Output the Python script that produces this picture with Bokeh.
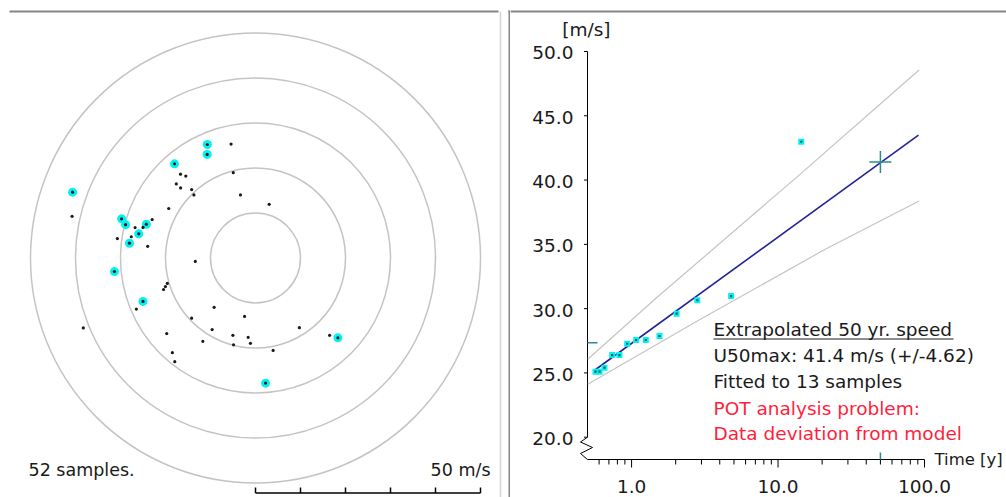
import math
from bokeh.plotting import figure
from bokeh.layouts import row
from bokeh.models import Range1d, Label
from bokeh.core.properties import value
from bokeh.embed import file_html
from bokeh.resources import INLINE

# ---------------- data: polar scatter of samples ----------------
ring_speeds = [10, 20, 30, 40, 50]            # m/s
scale_ticks = [0, 10, 20, 30, 40, 50]         # m/s
# samples not used in the extreme fit (direction deg, speed m/s)
sample_dir = [347.9, 318.2, 319.6, 345.4, 313.1, 313.1, 317.0, 315.7, 346.6, 14.3,
              299.7, 282.8, 290.4, 284.2, 285.2, 278.0, 279.7, 276.2, 266.7, 253.9,
              252.4, 251.1, 220.0, 246.8, 226.7, 190.6, 247.9, 211.2, 147.8, 229.6,
              196.3, 185.3, 136.2, 212.3, 194.2, 183.4, 169.2, 221.3, 217.9]
sample_speed = [25.9, 25.0, 23.9, 19.6, 24.1, 22.8, 20.8, 19.6, 14.4, 12.3,
                22.2, 41.8, 24.5, 27.6, 25.9, 31.0, 28.0, 24.1, 13.4, 20.4,
                21.0, 21.6, 14.3, 28.8, 19.5, 13.2, 41.3, 18.6, 18.3, 25.9,
                17.9, 17.7, 23.8, 21.9, 19.9, 19.0, 20.9, 28.0, 29.2]
# peak samples (used in the fit)
peak_dir = [337.0, 335.0, 319.3, 289.8, 286.3, 284.4, 287.2, 281.7, 276.7, 264.5,
            248.9, 134.1, 175.4]
peak_speed = [27.4, 25.4, 27.6, 43.2, 31.0, 29.8, 25.4, 26.5, 28.2, 31.5,
              26.8, 25.5, 27.9]

# ---------------- data: extreme value plot ----------------
return_period = [0.567, 0.604, 0.653, 0.737, 0.826, 0.933, 1.074, 1.25, 1.55, 2.03,
                 2.81, 4.78, 14.4]
return_speed = [25.1, 25.1, 25.41, 26.39, 26.39, 27.27, 27.56, 27.56, 27.87, 29.61,
                30.65, 30.98, 42.98]
fit_t = [0.55, 91.0]
fit_u = [25.15, 43.5]
upper_t = [0.502, 1.5, 13.5, 91.8]
upper_u = [26.06, 30.9, 40.25, 48.56]
lower_t = [0.502, 2.95, 21.0, 91.8]
lower_u = [24.12, 29.17, 34.62, 38.37]
t50 = 50.0
u50 = 41.4
u50_err = 4.62
threshold = 27.35
y_ticks = [20, 25, 30, 35, 40, 45, 50]
y_tick_labels = ["20.0", "25.0", "30.0", "35.0", "40.0", "45.0", "50.0"]
x_ticks = [1, 10, 100]
x_tick_labels = ["1.0", "10.0", "100.0"]
x_minor = [0.6, 0.7, 0.8, 0.9, 2, 3, 4, 5, 6, 7, 8, 9,
           20, 30, 40, 50, 60, 70, 80, 90]

FONT = "DejaVu Sans"
FS_L = "17.5px"
FS_R = "18.5px"
TXT = "#1a1a1a"
RED = "#ff1f3d"
CYAN = "#00f2f2"
TEAL = "#2a8c8c"
BORDER = "#868686"

# ---------------- left panel: polar ----------------
CX, CY, PXM = 255.0, 257.5, 4.5          # picture-pixel centre, px per m/s


def lx(px):
    return (px - CX) / PXM


def ly(py):
    return (CY - py) / PXM


L = figure(width=510, height=497, x_range=Range1d(lx(0), lx(510)),
           y_range=Range1d(ly(497), ly(0)), output_backend="svg",
           toolbar_location=None, min_border=0,
           x_axis_location=None, y_axis_location=None)
L.grid.visible = False
L.outline_line_color = None
L.background_fill_color = "white"
L.border_fill_color = "white"

L.circle(x=[0] * len(ring_speeds), y=[0] * len(ring_speeds), radius=ring_speeds,
         fill_color=None, line_color="#c4c4c4", line_width=1.5)

sx = [s * math.sin(math.radians(d)) for d, s in zip(sample_dir, sample_speed)]
sy = [s * math.cos(math.radians(d)) for d, s in zip(sample_dir, sample_speed)]
qx = [s * math.sin(math.radians(d)) for d, s in zip(peak_dir, peak_speed)]
qy = [s * math.cos(math.radians(d)) for d, s in zip(peak_dir, peak_speed)]

L.scatter(qx, qy, size=9, fill_color=CYAN, line_color=None)
L.scatter(sx + qx, sy + qy, size=3.2, fill_color="#1a1a1a", line_color=None)

# scale bar
L.line(x=[scale_ticks[0], scale_ticks[-1]], y=[ly(492.5)] * 2, line_color="black", line_width=1.5)
L.segment(x0=scale_ticks, y0=[ly(492.5)] * len(scale_ticks), x1=scale_ticks,
          y1=[ly(487)] * len(scale_ticks), line_color="black", line_width=1.5)

n_samples = len(sample_speed) + len(peak_speed)
L.add_layout(Label(x=lx(28), y=ly(469.5), text=f"{n_samples} samples.", text_font=FONT,
                   text_font_size=FS_L, text_color=TXT, text_baseline="middle"))
L.add_layout(Label(x=lx(490), y=ly(469.5), text=f"{ring_speeds[-1]} m/s", text_font=FONT,
                   text_font_size=FS_L, text_color=TXT, text_baseline="middle",
                   text_align="right"))

# panel borders
L.line(x=[lx(9), lx(498)], y=[ly(11)] * 2, line_color=BORDER, line_width=2)
L.line(x=[lx(508), lx(510)], y=[ly(11)] * 2, line_color=BORDER, line_width=2)
L.line(x=[lx(500)] * 2, y=[ly(11), ly(497)], line_color="#d4d4d4", line_width=1.5)
L.line(x=[lx(509)] * 2, y=[ly(10), ly(497)], line_color=BORDER, line_width=2)

# ---------------- right panel: extreme value fit ----------------
AX0, DEC = 587.0, (924.0 - 587.0) / math.log10(100 / 0.5)   # x of T=0.5, px per decade
Y20, PXU = 436.7, 12.857                                      # y of 20 m/s, px per m/s
XAXIS_Y = 459.0


def rx(px):
    return 0.5 * 10 ** ((px - AX0) / DEC)


def ry(py):
    return 20 + (Y20 - py) / PXU


R = figure(width=496, height=497, x_axis_type="log",
           x_range=Range1d(rx(510), rx(1006)), y_range=Range1d(ry(497), ry(0)),
           output_backend="svg", toolbar_location=None, min_border=0,
           x_axis_location=None, y_axis_location=None)
R.grid.visible = False
R.outline_line_color = None
R.background_fill_color = "white"
R.border_fill_color = "white"

x0 = rx(AX0)                 # left end of time axis (T = 0.5)
yb = ry(XAXIS_Y)             # time axis level

# y axis: line, ticks, labels, break zig-zag
R.line(x=[x0, x0], y=[y_ticks[0], y_ticks[-1]], line_color="black", line_width=1)
R.segment(x0=[rx(583.5)] * len(y_ticks), y0=y_ticks, x1=[x0] * len(y_ticks), y1=y_ticks,
          line_color="black", line_width=1)
R.text(x=[rx(573)] * len(y_ticks), y=y_ticks, text=y_tick_labels, text_font=value(FONT),
       text_font_size=value(FS_R), text_color=TXT, text_align="right",
       text_baseline="middle", y_offset=1.5)
zz_px = [587, 580, 592, 580, 587]
zz_py = [436.7, 441.5, 447, 453, 459]
R.line(x=[rx(p) for p in zz_px], y=[ry(p) for p in zz_py], line_color="black", line_width=1)

# x axis: line, ticks, labels
R.line(x=[x0, x_ticks[-1]], y=[yb, yb], line_color="black", line_width=1)
R.segment(x0=x_ticks, y0=[yb] * len(x_ticks), x1=x_ticks, y1=[ry(XAXIS_Y + 8)] * len(x_ticks),
          line_color="black", line_width=1)
R.segment(x0=x_minor, y0=[yb] * len(x_minor), x1=x_minor, y1=[ry(XAXIS_Y + 5)] * len(x_minor),
          line_color="black", line_width=1)
R.text(x=x_ticks, y=[ry(486)] * len(x_ticks), text=x_tick_labels, text_font=value(FONT),
       text_font_size=value(FS_R), text_color=TXT, text_align="center", text_baseline="middle")

# confidence band and fit
R.line(upper_t, upper_u, line_color="#c4c4c4", line_width=1.2)
R.line(lower_t, lower_u, line_color="#c4c4c4", line_width=1.2)
R.line(fit_t, fit_u, line_color="#23239a", line_width=1.6)

# threshold mark and 50-yr mark
R.segment(x0=[x0], y0=[threshold], x1=[rx(597)], y1=[threshold], line_color=TEAL, line_width=1.5)
R.segment(x0=[t50], y0=[yb], x1=[t50], y1=[ry(XAXIS_Y - 7)], line_color=TEAL, line_width=1.5)

R.scatter(return_period, return_speed, marker="square", size=6, fill_color=CYAN, line_color=None)
R.scatter(return_period, return_speed, marker="square", size=2.2, fill_color="#0b5a5a", line_color=None)
R.scatter([t50], [u50], marker="cross", size=22, line_color=TEAL, line_width=1.5)

R.add_layout(Label(x=rx(561.7), y=ry(29), text="[m/s]", text_font=FONT, text_font_size=FS_R,
                   text_color=TXT, text_baseline="middle"))
R.add_layout(Label(x=rx(934), y=ry(459), text="Time [y]", text_font=FONT, text_font_size="16.5px",
                   text_color=TXT, text_baseline="middle"))

lines = [("Extrapolated 50 yr. speed", TXT, 329.3),
         (f"U50max: {u50} m/s (+/-{u50_err})", TXT, 355.0),
         (f"Fitted to {len(return_speed)} samples", TXT, 381.0),
         ("POT analysis problem:", RED, 407.7),
         ("Data deviation from model", RED, 432.7)]
for txt, col, yy in lines:
    R.add_layout(Label(x=rx(713), y=ry(yy), text=txt, text_font=FONT, text_font_size=FS_R,
                       text_color=col, text_baseline="middle"))
R.line(x=[rx(713), rx(953)], y=[ry(338.5)] * 2, line_color=TXT, line_width=1)

# top border of the right panel
R.line(x=[rx(510), rx(1006)], y=[ry(11)] * 2, line_color=BORDER, line_width=2)

layout = row(L, R, spacing=0)
open("out.html", "w").write(file_html(layout, INLINE))
